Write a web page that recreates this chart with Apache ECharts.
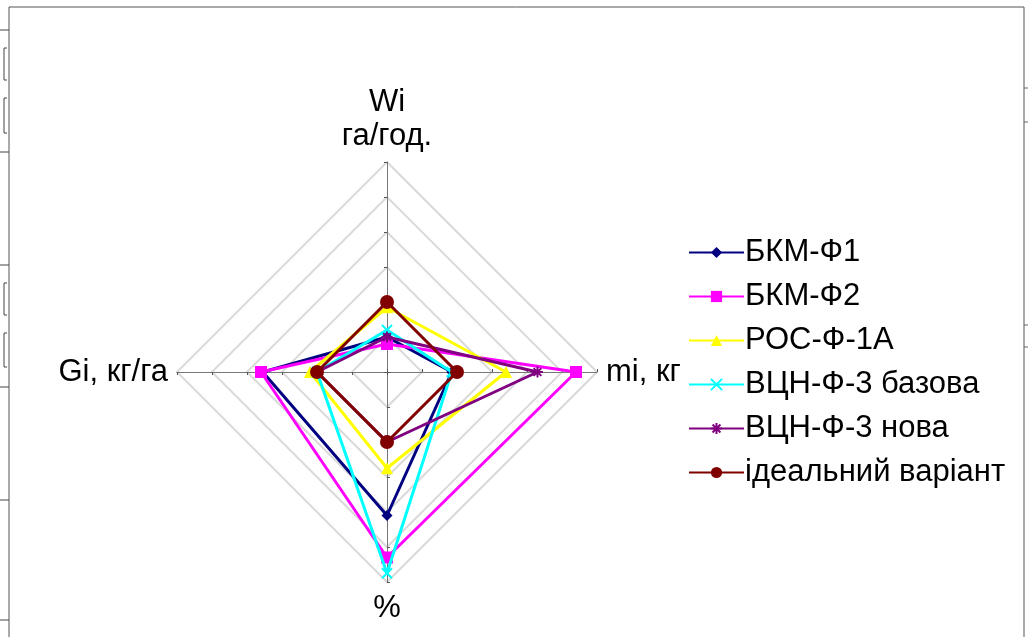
<!DOCTYPE html>
<html>
<head>
<meta charset="utf-8">
<script src="https://cdn.jsdelivr.net/npm/echarts@6/dist/echarts.min.js"></script>
<style>
  html, body { margin: 0; padding: 0; background: #fff; }
  #chart { width: 1028px; height: 637px; }
</style>
</head>
<body>
<div id="chart"></div>
<script>
// Radar axes, listed in drawing order: top, left, bottom, right
const axisNames = ['Wi\nга/год.', 'Gi, кг/га', '%', 'mi, кг'];
const axisMax = 6;

// Series names (legend order)
const seriesNames = ['БКМ-Ф1', 'БКМ-Ф2', 'РОС-Ф-1А', 'ВЦН-Ф-3 базова', 'ВЦН-Ф-3 нова', 'ідеальний варіант'];

// Values per axis, same order as axisNames
const bkmF1   = [1.0, 3.55, 4.1, 1.85];
const bkmF2   = [0.8, 3.6, 5.3, 5.4];
const rosF1A  = [1.85, 2.2, 2.75, 3.4];
const vcnBase = [1.2, 2.0, 5.75, 1.85];
const vcnNew  = [1.0, 2.0, 2.0, 4.3];
const ideal   = [2.0, 2.0, 2.0, 2.0];

const seriesValues = [bkmF1, bkmF2, rosF1A, vcnBase, vcnNew, ideal];

const colors = ['#000080', '#FF00FF', '#FFFF00', '#00FFFF', '#800080', '#800000'];
const xMark = 'path://M0,0L10,10M10,0L0,10';
const starMark = 'path://M5,0L5,10M0,5L10,5M1.5,1.5L8.5,8.5M8.5,1.5L1.5,8.5';
const symbols = ['diamond', 'rect', 'triangle', xMark, starMark, 'circle'];
const symbolSizes = [11, 12, 12, 10, 11, 14];
const legendSymbolSizes = [9, 11, 11, 10, 11, 12];

const FONT = 'Liberation Sans, Arial, sans-serif';

const chart = echarts.init(document.getElementById('chart'), null, { renderer: 'canvas' });

function markStyle(i) {
  const stroked = i === 3 || i === 4;
  return {
    color: colors[i],
    borderColor: colors[i],
    borderWidth: stroked ? 2 : 0
  };
}

// Empty line series provide line-with-marker legend icons; radar series carry the data
const legendSeries = seriesNames.map((name, i) => ({
  type: 'line',
  name: name,
  xAxisIndex: 0,
  yAxisIndex: 0,
  data: [],
  symbol: symbols[i],
  symbolSize: legendSymbolSizes[i],
  lineStyle: { color: colors[i], width: 2.5 },
  itemStyle: markStyle(i)
}));

const radarSeries = seriesNames.map((name, i) => ({
  type: 'radar',
  name: name,
  z: 3 + i,
  symbol: symbols[i],
  symbolSize: symbolSizes[i],
  lineStyle: { color: colors[i], width: 3 },
  itemStyle: markStyle(i),
  data: [{ value: seriesValues[i], name: name }]
}));

// Frame edges and small stray marks around the plot
const frameColor = '#555';
const frameLines = [
  [[9, 7], [1024, 7]],
  [[9, 7], [9, 637]],
  [[1024, 7], [1024, 637]]
];
const leftTicks = [30, 152, 265, 387, 500, 620];
const brackets = [[48, 80], [98, 133], [283, 315], [333, 367]];
const rightTicks = [88, 122, 325, 347];
const graphics = [];
frameLines.forEach(p => graphics.push({ type: 'polyline', shape: { points: p }, style: { stroke: frameColor, lineWidth: 1, fill: null } }));
leftTicks.forEach(y => graphics.push({ type: 'line', shape: { x1: 0, y1: y, x2: 9, y2: y }, style: { stroke: '#444', lineWidth: 1 } }));
brackets.forEach(b => graphics.push({ type: 'polyline', shape: { points: [[7, b[0]], [4, b[0]], [4, b[1]], [7, b[1]]] }, style: { stroke: '#444', lineWidth: 1, fill: null } }));
rightTicks.forEach(y => graphics.push({ type: 'line', shape: { x1: 1024, y1: y, x2: 1028, y2: y }, style: { stroke: '#666', lineWidth: 1 } }));

chart.setOption({
  animation: false,
  backgroundColor: '#fff',
  color: colors,
  textStyle: { fontFamily: FONT },
  grid: { show: false, left: -50, top: -50, width: 10, height: 10 },
  xAxis: { show: false, type: 'value' },
  yAxis: { show: false, type: 'value' },
  graphic: graphics,
  legend: {
    orient: 'vertical',
    left: 683,
    top: 237,
    padding: [0, 10, 0, 5],
    backgroundColor: '#fff',
    z: 20,
    itemWidth: 55,
    itemHeight: 14,
    itemGap: 13,
    data: seriesNames,
    textStyle: { fontFamily: FONT, fontSize: 31, color: '#000', lineHeight: 30, padding: [0, 0, 0, -4] }
  },
  radar: {
    center: [387, 372],
    radius: 210,
    startAngle: 90,
    shape: 'polygon',
    splitNumber: 6,
    indicator: axisNames.map(n => ({ name: n, min: 0, max: axisMax })),
    axisName: {
      color: '#000',
      fontFamily: FONT,
      fontSize: 31,
      lineHeight: 34
    },
    nameGap: 9,
    axisLine: { lineStyle: { color: '#777', width: 1 } },
    axisTick: { show: true, length: 3, lineStyle: { color: '#555' } },
    splitLine: { lineStyle: { color: '#dadada', width: 2 } },
    splitArea: { show: false }
  },
  series: legendSeries.concat(radarSeries)
});
</script>
</body>
</html>
